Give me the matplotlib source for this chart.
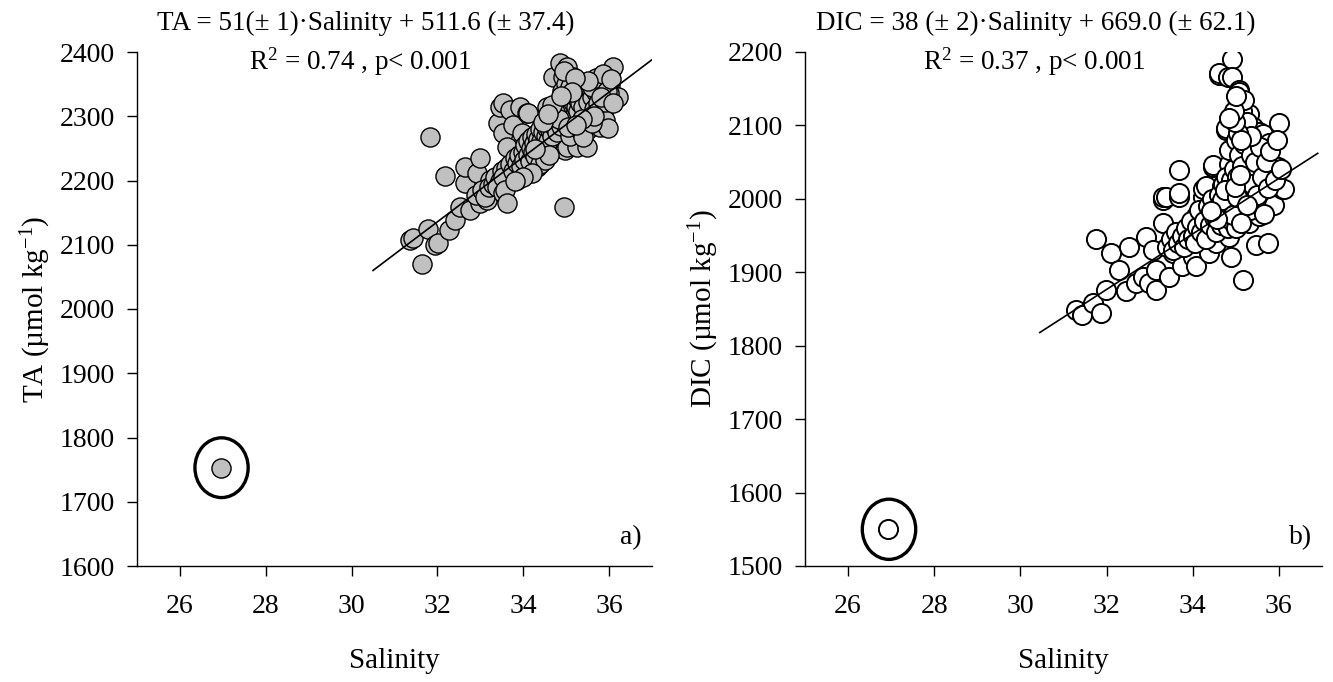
# coding=utf-8
"""TA and DIC against salinity, two scatter panels with a linear fit."""

import matplotlib
matplotlib.use('Agg')
import matplotlib.pyplot as plt
from matplotlib.patches import Ellipse

# --- panel a) TA vs salinity --------------------------------------------
TA_SAL = [
    31.36, 31.43, 31.64, 31.78, 31.83, 31.95, 32.02, 32.18, 32.27, 32.41,
    32.53, 32.65, 32.65, 32.76, 32.92, 33.00, 33.00, 33.16, 33.23, 32.90,
    33.05, 33.10, 33.20, 33.30, 33.35, 33.45, 33.50, 33.60, 33.65,
    33.39, 33.41, 33.46, 33.53, 33.53, 33.53, 33.53, 33.58, 33.62, 33.62,
    33.69, 33.77, 33.86, 33.93, 33.97, 34.09, 34.09, 34.11, 34.23, 34.32,
    34.39, 34.56, 34.63, 34.70, 34.79, 34.79, 34.86, 34.86, 34.93, 34.96,
    34.98, 35.02, 35.02, 35.09, 35.09, 35.16, 35.16, 35.26, 35.26, 35.40,
    35.49, 35.49, 35.72, 35.79, 35.79, 35.86, 35.91, 35.96, 35.98, 36.03,
    36.03, 36.10, 36.19, 36.21,
    33.70, 33.75, 33.80, 33.85, 33.90, 33.95, 34.00, 34.02, 34.05, 34.10,
    34.12, 34.15, 34.18, 34.20, 34.22, 34.25, 34.28, 34.30, 34.33, 34.35,
    34.38, 34.40, 34.42, 34.45, 34.48, 34.50, 34.52, 34.55, 34.58, 34.60,
    34.62, 34.65, 34.68, 34.70, 34.72, 34.75, 34.78, 34.80, 34.82, 34.85,
    34.88, 34.90, 34.92, 34.95, 34.98, 35.00, 35.02, 35.05, 35.08, 35.10,
    35.12, 35.15, 35.18, 35.20, 35.22, 35.25, 35.28, 35.30, 35.33, 35.35,
    35.40, 35.45, 35.50, 35.55, 35.60, 35.65, 35.70, 35.75, 35.85, 35.90,
    36.00, 35.10, 35.30, 35.40, 35.60, 34.40, 34.50, 34.60, 34.20, 34.00,
    33.80,
    35.60, 35.70, 35.85, 35.95, 36.05, 35.80, 35.65, 36.10, 35.50, 34.90,
    35.00, 35.10, 34.95, 35.20, 34.74, 34.83, 35.04, 35.14, 34.66, 35.37,
    34.47, 34.27, 34.58, 34.87, 35.24,
]
TA_VAL = [
    2107, 2110, 2070, 2124, 2267, 2100, 2103, 2207, 2123, 2139,
    2158, 2196, 2221, 2154, 2212, 2235, 2165, 2170, 2201, 2178,
    2185, 2175, 2190, 2195, 2205, 2200, 2215, 2220, 2210,
    2190, 2289, 2314, 2274, 2205, 2180, 2320, 2185, 2252, 2165,
    2310, 2287, 2201, 2314, 2274, 2305, 2216, 2305, 2268, 2221,
    2236, 2314, 2247, 2361, 2252, 2283, 2320, 2383, 2361, 2158,
    2247, 2377, 2252, 2356, 2314, 2268, 2361, 2294, 2252, 2330,
    2252, 2278, 2352, 2283, 2361, 2305, 2294, 2352, 2282, 2349,
    2367, 2377, 2330, 2330,
    2225, 2215, 2235, 2228, 2240, 2222, 2245, 2232, 2255, 2240,
    2262, 2230, 2250, 2268, 2245, 2258, 2238, 2272, 2255, 2265,
    2248, 2280, 2262, 2275, 2255, 2288, 2270, 2282, 2262, 2295,
    2278, 2290, 2270, 2300, 2285, 2298, 2275, 2310, 2292, 2302,
    2285, 2318, 2298, 2310, 2290, 2325, 2305, 2318, 2295, 2330,
    2310, 2322, 2300, 2338, 2315, 2328, 2308, 2342, 2320, 2335,
    2315, 2340, 2322, 2345, 2330, 2312, 2338, 2320, 2340, 2322,
    2336, 2270, 2280, 2268, 2290, 2225, 2232, 2240, 2212, 2205,
    2200,
    2345, 2360, 2365, 2340, 2358, 2330, 2300, 2320, 2355, 2340,
    2350, 2345, 2370, 2360, 2307, 2296, 2283, 2337, 2318, 2296,
    2291, 2249, 2303, 2331, 2287,
]
TA_OUT_SAL = [26.95]
TA_OUT_VAL = [1753]
TA_FIT_SAL = [30.5, 37.0]
TA_FIT_VAL = [2060, 2388]

# --- panel b) DIC vs salinity -------------------------------------------
DIC_SAL = [
    31.29, 31.44, 31.68, 31.75, 31.87, 31.99, 32.10, 32.29, 32.45, 32.53,
    32.68, 32.84, 32.91, 32.99, 33.07, 33.15, 33.15, 33.30, 33.30, 33.30,
    33.38, 33.45, 33.53, 33.69, 33.69, 33.69, 33.69, 33.76, 33.96, 34.00,
    34.07, 34.07, 34.23, 34.23, 34.31, 34.38, 34.38, 34.46, 34.46, 34.54,
    34.54, 34.62, 34.62, 34.69, 34.77, 34.77, 34.77, 34.81, 34.85, 34.85,
    34.85, 34.89, 34.90, 34.92, 35.00, 35.00, 35.08, 35.08, 35.08, 35.08,
    35.16, 35.16, 35.16, 35.16, 35.23, 35.31, 35.31, 35.31, 35.39, 35.47,
    35.47, 35.47, 35.54, 35.54, 35.54, 35.62, 35.62, 35.74, 35.78, 35.85,
    35.89, 35.93, 35.97, 36.01, 36.08, 36.12,
    33.40, 33.50, 33.55, 33.60, 33.65, 33.75, 33.80, 33.85, 33.90, 33.95,
    34.00, 34.05, 34.10, 34.15, 34.20, 34.25, 34.30, 34.35, 34.40, 34.45,
    34.50, 34.55, 34.60, 34.62, 34.65, 34.70, 34.72, 34.75, 34.78, 34.80,
    34.82, 34.85, 34.88, 34.90, 34.92, 34.95, 34.97, 35.00, 35.02, 35.05,
    35.07, 35.10, 35.12, 35.15, 35.18, 35.20, 35.22, 35.25, 35.28, 35.30,
    35.33, 35.35, 35.38, 35.40, 35.45, 35.50, 35.55, 35.60, 35.65, 35.70,
    35.75, 35.80, 35.90, 35.95, 36.05,
    35.10, 35.15, 35.20, 35.25, 35.35, 35.05, 35.12, 34.98, 34.95, 35.00,
    34.85,
    34.68, 34.74, 34.93, 35.03, 35.13, 35.27, 34.57, 34.43, 34.99, 35.09,
]
DIC_VAL = [
    1849, 1842, 1858, 1946, 1844, 1876, 1926, 1903, 1874, 1935,
    1885, 1894, 1948, 1885, 1930, 1876, 1903, 1967, 1998, 2003,
    2003, 1894, 1926, 1944, 2003, 2008, 2039, 1908, 1962, 1921,
    1976, 1908, 2003, 2014, 2017, 1958, 1926, 2044, 2046, 1940,
    1980, 2169, 2171, 2017, 2094, 2096, 1985, 2166, 1948, 2048,
    2067, 1921, 2190, 2166, 2012, 2080, 2148, 2146, 2125, 2130,
    1890, 2062, 1994, 1989, 2112, 1967, 2116, 2057, 2098, 1937,
    2039, 2035, 1976, 2091, 2017, 2089, 2008, 1940, 2076, 1994,
    1992, 2044, 2044, 2103, 2014, 2014,
    1935, 1945, 1930, 1955, 1940, 1950, 1935, 1960, 1945, 1970,
    1950, 1940, 1962, 1985, 1955, 1970, 1945, 1990, 1965, 2000,
    1975, 1955, 2005, 1985, 1965, 2020, 1995, 1975, 2030, 2005,
    1960, 1990, 2025, 1970, 2005, 2040, 1985, 1960, 2030, 1995,
    2060, 1975, 2015, 2045, 1985, 2075, 2000, 2030, 2090, 2010,
    1985, 2060, 2020, 1995, 2050, 2005, 2070, 2030, 1980, 2050,
    2015, 2065, 2025, 2080, 2040,
    2100, 2120, 2135, 2105, 2085, 2090, 2080, 2105, 2120, 2140,
    2110,
    1998, 2012, 1978, 2002, 1967, 1992, 1972, 1983, 2016, 2033,
]
DIC_OUT_SAL = [26.93]
DIC_OUT_VAL = [1550]
DIC_FIT_SAL = [30.45, 36.9]
DIC_FIT_VAL = [1818, 2062]

SAL_TICKS = [26, 28, 30, 32, 34, 36]
TA_TICKS = [1600, 1700, 1800, 1900, 2000, 2100, 2200, 2300, 2400]
DIC_TICKS = [1500, 1600, 1700, 1800, 1900, 2000, 2100, 2200]

plt.rcParams['font.family'] = ['Liberation Serif', 'DejaVu Serif']
plt.rcParams['mathtext.fontset'] = 'custom'
plt.rcParams['mathtext.rm'] = 'Liberation Serif'
plt.rcParams['mathtext.it'] = 'Liberation Serif:italic'

FS = 20


def style_axes(ax, yticks, ylabel, tag):
    for side in ('top', 'right'):
        ax.spines[side].set_visible(False)
    ax.spines['left'].set_linewidth(1.0)
    ax.spines['bottom'].set_linewidth(1.0)
    ax.set_xlim(25, 37)
    ax.set_ylim(yticks[0], yticks[-1])
    ax.set_xticks(SAL_TICKS)
    ax.set_yticks(yticks)
    ax.tick_params(direction='out', length=7, width=1, labelsize=FS)
    ax.tick_params(axis='x', pad=13)
    ax.tick_params(axis='y', pad=9)
    ax.set_xlabel('Salinity', fontsize=FS + 1, labelpad=21)
    ax.set_ylabel(ylabel, fontsize=FS + 1, labelpad=5)
    ax.text(0.98, 0.055, tag, transform=ax.transAxes, ha='right',
            va='center', fontsize=FS)


def panel(ax, sal, val, out_sal, out_val, fit_sal, fit_val, face,
          ell_h, yticks, ylabel, tag, lw):
    ax.scatter(sal, val, s=190, facecolor=face, edgecolor='black',
               linewidth=lw, zorder=2)
    ax.scatter(out_sal, out_val, s=190, facecolor=face, edgecolor='black',
               linewidth=lw, zorder=2)
    ax.add_patch(Ellipse((out_sal[0] + 0.02, out_val[0]), 1.24, ell_h,
                         fill=False, edgecolor='black', linewidth=2.4,
                         zorder=3))
    ax.plot(fit_sal, fit_val, color='black', linewidth=1.2, zorder=4)
    style_axes(ax, yticks, ylabel, tag)


def main():
    fig = plt.figure(figsize=(13.33, 6.82), dpi=100)
    ax_a = fig.add_axes([137 / 1333, 116 / 682, 515 / 1333, 514 / 682])
    ax_b = fig.add_axes([805 / 1333, 116 / 682, 517 / 1333, 514 / 682])

    panel(ax_a, TA_SAL, TA_VAL, TA_OUT_SAL, TA_OUT_VAL, TA_FIT_SAL,
          TA_FIT_VAL, '#c0c0c0', 93, TA_TICKS,
          'TA (µmol kg$^{-1}$)', 'a)', 1.0)
    panel(ax_b, DIC_SAL, DIC_VAL, DIC_OUT_SAL, DIC_OUT_VAL, DIC_FIT_SAL,
          DIC_FIT_VAL, 'white', 82, DIC_TICKS,
          'DIC (µmol kg$^{-1}$)', 'b)', 1.4)

    tfs = 19.5
    fig.text(366 / 1333, 1 - 23 / 682,
             'TA = 51(± 1)·Salinity + 511.6 (± 37.4)',
             ha='center', va='center', fontsize=tfs)
    fig.text(360 / 1333, 1 - 62 / 682, 'R$^{2}$ = 0.74 , p< 0.001',
             ha='center', va='center', fontsize=tfs)
    fig.text(1036 / 1333, 1 - 23 / 682,
             'DIC = 38 (± 2)·Salinity + 669.0 (± 62.1)',
             ha='center', va='center', fontsize=tfs)
    fig.text(1034 / 1333, 1 - 62 / 682, 'R$^{2}$ = 0.37 , p< 0.001',
             ha='center', va='center', fontsize=tfs)

    fig.savefig('out.png', dpi=100)


if __name__ == '__main__':
    main()
